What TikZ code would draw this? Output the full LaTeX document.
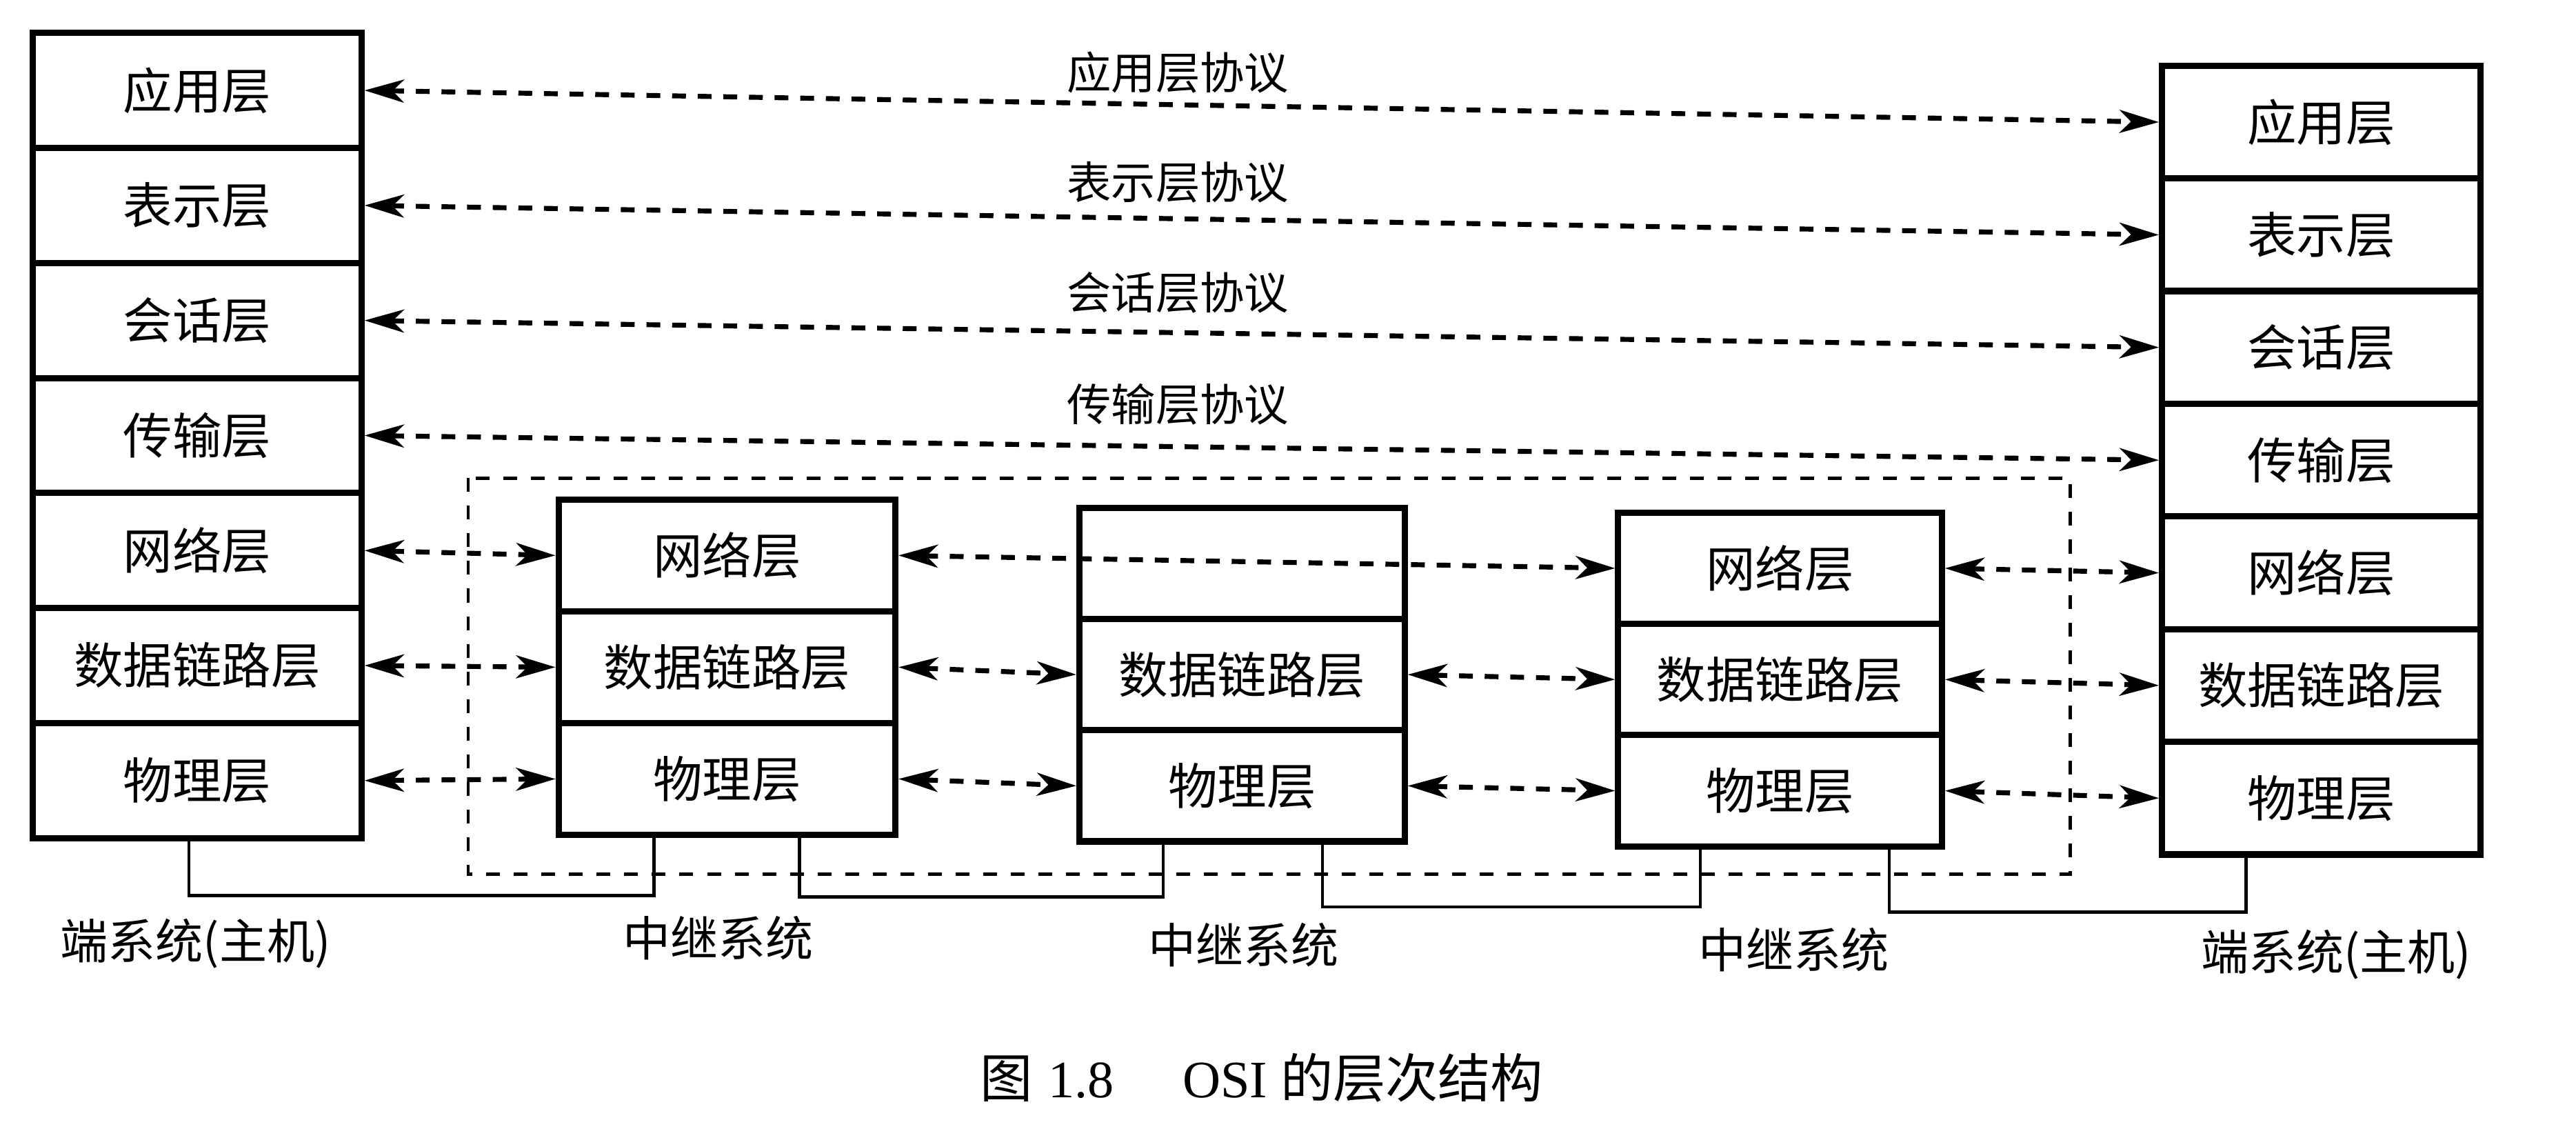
\documentclass[tikz,border=0pt]{standalone}
\usepackage{fontspec}
\setmainfont{Liberation Serif}
\newfontfamily\cjk{Noto Sans CJK SC}
\usetikzlibrary{arrows.meta,calc}
\begin{document}
\begin{tikzpicture}[x=0.5pt,y=-0.5pt,
  layerbox/.style={draw, line width=1.9pt, inner sep=0pt, font=\cjk\fontsize{15}{15}\selectfont},
  lbox/.style={layerbox, minimum width=100pt, minimum height=35pt},
  rbox/.style={layerbox, minimum width=97pt, minimum height=34.29pt},
  abox/.style={layerbox, minimum width=102.5pt, minimum height=34pt},
  bbox/.style={layerbox, minimum width=99pt, minimum height=33.83pt},
  cbox/.style={layerbox, minimum width=98.5pt, minimum height=33.83pt},
  tipx/.tip={Stealth[length=12pt,width=7pt,inset=3.5pt]},
  peer/.style={line width=1.5pt, dash pattern=on 4.2pt off 3.6pt, tipx-tipx},
  protolabel/.style={font=\cjk\fontsize{13.5}{13.5}\selectfont, inner sep=0pt},
  syslabel/.style={font=\cjk\fontsize{14.5}{14.5}\selectfont, inner sep=0pt},
  wire/.style={line width=1pt},
  relayframe/.style={line width=1pt, dash pattern=on 4.2pt off 4.2pt}
]
\useasboundingbox (0,0) rectangle (1568,687);

% dashed frame round the relay systems
\draw[relayframe] (285,291) rectangle (1260,532);

% left end system
\node[lbox] (L1) at (120,55) {应用层};
\node[lbox] (L2) at (120,125) {表示层};
\node[lbox] (L3) at (120,195) {会话层};
\node[lbox] (L4) at (120,265) {传输层};
\node[lbox] (L5) at (120,335) {网络层};
\node[lbox] (L6) at (120,405) {数据链路层};
\node[lbox] (L7) at (120,475) {物理层};

% right end system
\node[rbox] (R1) at (1413,74.3) {应用层};
\node[rbox] (R2) at (1413,142.9) {表示层};
\node[rbox] (R3) at (1413,211.4) {会话层};
\node[rbox] (R4) at (1413,280) {传输层};
\node[rbox] (R5) at (1413,348.6) {网络层};
\node[rbox] (R6) at (1413,417.1) {数据链路层};
\node[rbox] (R7) at (1413,485.7) {物理层};

% relay 1
\node[abox] (A1) at (442.5,338) {网络层};
\node[abox] (A2) at (442.5,406) {数据链路层};
\node[abox] (A3) at (442.5,474) {物理层};

% relay 2
\node[bbox] (B1) at (756,342.8) {};
\node[bbox] (B2) at (756,410.5) {数据链路层};
\node[bbox] (B3) at (756,478.2) {物理层};

% relay 3
\node[cbox] (C1) at (1083.5,345.8) {网络层};
\node[cbox] (C2) at (1083.5,413.5) {数据链路层};
\node[cbox] (C3) at (1083.5,481.2) {物理层};

% protocol labels
\node[protolabel] (P1) at (717,44) {应用层协议};
\node[protolabel] (P2) at (717,111) {表示层协议};
\node[protolabel] (P3) at (717,178) {会话层协议};
\node[protolabel] (P4) at (717,246) {传输层协议};

% peer arrows
\draw[peer] (L1.east) -- (R1.west);
\draw[peer] (L2.east) -- (R2.west);
\draw[peer] (L3.east) -- (R3.west);
\draw[peer] (L4.east) -- (R4.west);
\draw[peer] (L5.east) -- (A1.west);
\draw[peer] (L6.east) -- (A2.west);
\draw[peer] (L7.east) -- (A3.west);
\draw[peer] (A1.east) -- (C1.west);
\draw[peer] (A2.east) -- (B2.west);
\draw[peer] (A3.east) -- (B3.west);
\draw[peer] (B2.east) -- (C2.west);
\draw[peer] (B3.east) -- (C3.west);
\draw[peer] (C1.east) -- (R5.west);
\draw[peer] (C2.east) -- (R6.west);
\draw[peer] (C3.east) -- (R7.west);

% physical links
\draw[wire] ([xshift=-2.5pt]L7.south) -- ++(0,33) -| ([xshift=-22.25pt]A3.south);
\draw[wire] ([xshift=22pt]A3.south) -- ++(0,36) -| ([xshift=-24pt]B3.south);
\draw[wire] ([xshift=24.5pt]B3.south) -- ++(0,38) -| ([xshift=-24.25pt]C3.south);
\draw[wire] ([xshift=33.25pt]C3.south) -- ++(0,38) -| ([xshift=-23pt]R7.south);

% system labels
\node[syslabel] (S1) at (119,574) {端系统(主机)};
\node[syslabel] (S2) at (437,571) {中继系统};
\node[syslabel] (S3) at (757,575) {中继系统};
\node[syslabel] (S4) at (1092,578) {中继系统};
\node[syslabel] (S5) at (1422,581) {端系统(主机)};

% caption
\node[font=\fontsize{16}{16}\selectfont, inner sep=0pt] (cap) at (768,656)
  {{\cjk 图}\hspace{0.3em}1.8\hspace{1.3em}OSI\hspace{0.25em}{\cjk 的层次结构}};
\end{tikzpicture}
\end{document}
